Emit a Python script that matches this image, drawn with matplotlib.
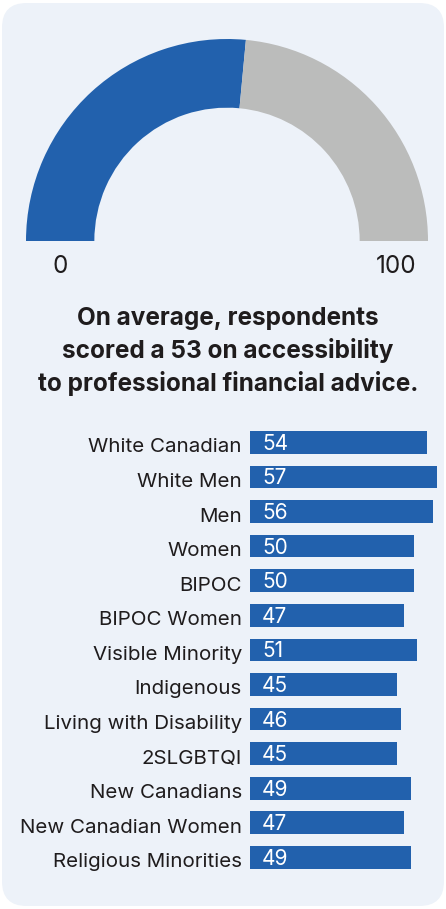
import matplotlib
matplotlib.use("Agg")
import matplotlib.pyplot as plt
from matplotlib.patches import FancyBboxPatch

plt.rcParams["font.family"] = ["Inter", "DejaVu Sans"]

# Data
average_score = 53
gauge_max = 100
categories = [
    "White Canadian", "White Men", "Men", "Women", "BIPOC", "BIPOC Women",
    "Visible Minority", "Indigenous", "Living with Disability", "2SLGBTQI",
    "New Canadians", "New Canadian Women", "Religious Minorities",
]
scores = [54, 57, 56, 50, 50, 47, 51, 45, 46, 45, 49, 47, 49]
headline = [
    "On average, respondents",
    "scored a 53 on accessibility",
    "to professional financial advice.",
]

BLUE = "#2261ad"
GREY = "#bbbcbb"
PANEL = "#edf2f9"
INK = "#1f1c1d"

W, H = 446, 909
fig = plt.figure(figsize=(W / 100, H / 100), dpi=100)
fig.patch.set_facecolor("white")


def px_box(x0, y0, x1, y1):
    """Figure-fraction rect from pixel corners (y measured from top)."""
    return [x0 / W, 1 - y1 / H, (x1 - x0) / W, (y1 - y0) / H]


# Rounded background card
card = FancyBboxPatch((2 / W, 3 / H), 442 / W, 903 / H,
                      boxstyle="round,pad=0,rounding_size=0.055",
                      transform=fig.transFigure, facecolor=PANEL,
                      edgecolor="none", mutation_aspect=W / H, zorder=-10)
fig.patches.append(card)

# Half-donut gauge
gax = fig.add_axes(px_box(26, 39, 428, 241))
gax.pie([average_score, gauge_max - average_score, gauge_max],
        colors=[BLUE, GREY, "none"], startangle=180, counterclock=False,
        radius=1.0, wedgeprops=dict(width=0.34, linewidth=0))
gax.set_xlim(-1, 1)
gax.set_ylim(0, 1)
gax.set_aspect("auto")
gax.axis("off")
ring_mid = 1 - 0.34 / 2
gax.text(-ring_mid, -0.16, "0", ha="center", va="baseline", fontsize=17.5,
         color=INK, clip_on=False)
gax.text(ring_mid + 0.01, -0.16, str(gauge_max), ha="center", va="baseline",
         fontsize=17.5, color=INK, clip_on=False)

# Headline
for i, line in enumerate(headline):
    fig.text(228 / W, 1 - (325 + 33 * i) / H, line, ha="center",
             va="baseline", fontsize=17.5, fontweight="bold", color=INK)

# Horizontal bars
bax = fig.add_axes(px_box(250, 425.1, 440, 874.7))
ypos = list(range(len(categories)))
bax.barh(ypos, scores, height=0.656, color=BLUE)
bax.set_xlim(0, 58)
bax.set_ylim(len(categories) - 0.5, -0.5)
bax.set_xticks([])
bax.set_yticks([])
for s in bax.spines.values():
    s.set_visible(False)
bax.patch.set_visible(False)

# Category names to the left of each bar, values inside the bar
for y, name, v in zip(ypos, categories, scores):
    bax.annotate(name, xy=(0, y), xytext=(-8, -10), textcoords="offset pixels",
                 ha="right", va="baseline", fontsize=14.8, color=INK,
                 annotation_clip=False)
    bax.annotate(str(v), xy=(0, y), xytext=(12, -7.5), textcoords="offset pixels",
                 ha="left", va="baseline", fontsize=15, color="white")

fig.savefig("out.png", dpi=100, facecolor=fig.get_facecolor())
